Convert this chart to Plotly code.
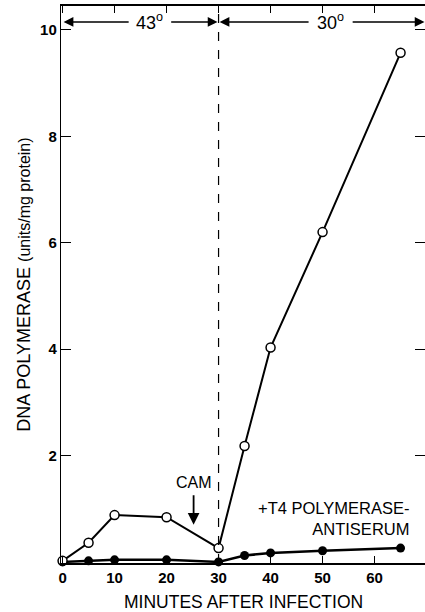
import plotly.graph_objects as go

# Data
minutes = [0, 5, 10, 20, 30, 35, 40, 50, 65]
control = [0.02, 0.36, 0.88, 0.84, 0.26, 2.18, 4.03, 6.2, 9.57]
antiserum = [0.0, 0.02, 0.04, 0.04, 0.0, 0.12, 0.17, 0.21, 0.26]
x_ticks = [0, 10, 20, 30, 40, 50, 60]
y_ticks = [2, 4, 6, 8, 10]

FONT = "Liberation Sans"

fig = go.Figure()

fig.add_trace(go.Scatter(
    x=minutes, y=antiserum, mode="lines+markers",
    line=dict(color="black", width=2.5),
    marker=dict(symbol="circle", size=9, color="black"),
    showlegend=False, cliponaxis=False))

fig.add_trace(go.Scatter(
    x=minutes, y=control, mode="lines+markers",
    line=dict(color="black", width=2),
    marker=dict(symbol="circle", size=9, color="white",
                line=dict(color="black", width=1.5)),
    showlegend=False, cliponaxis=False))

# dashed vertical line at 30 min
fig.add_shape(type="line", x0=30, x1=30, y0=0, y1=1, xref="x", yref="paper",
              line=dict(color="black", width=1.2, dash="dash"))

arrow_y = 10.15
def span_arrow(x_from, x_to):
    fig.add_annotation(x=x_to, y=arrow_y, ax=x_from, ay=arrow_y,
                       xref="x", yref="y", axref="x", ayref="y",
                       text="", showarrow=True, arrowhead=2, arrowsize=1.3,
                       arrowwidth=1.5, arrowcolor="black")

span_arrow(13.0, 0.2)
span_arrow(20.6, 29.8)
span_arrow(47.6, 30.2)
span_arrow(55.5, 69.6)

fig.add_annotation(x=16.8, y=arrow_y, xref="x", yref="y", text="43<sup>o</sup>",
                   showarrow=False, font=dict(family=FONT, size=18, color="black"))
fig.add_annotation(x=51.5, y=arrow_y, xref="x", yref="y", text="30<sup>o</sup>",
                   showarrow=False, font=dict(family=FONT, size=18, color="black"))

# CAM arrow
fig.add_annotation(x=25.2, y=0.7, ax=25.2, ay=1.28, xref="x", yref="y",
                   axref="x", ayref="y", text="", showarrow=True,
                   arrowhead=2, arrowsize=1.3, arrowwidth=1.8, arrowcolor="black")
fig.add_annotation(x=25.2, y=1.5, xref="x", yref="y", text="CAM",
                   showarrow=False, font=dict(family=FONT, size=16, color="black"))

fig.add_annotation(x=67.0, y=0.82, xref="x", yref="y",
                   text="+T4 POLYMERASE-<br>ANTISERUM", align="right",
                   xanchor="right", yanchor="middle", showarrow=False,
                   font=dict(family=FONT, size=16.5, color="black"))

# axis titles
fig.add_annotation(x=-0.104, y=0.5, xref="paper", yref="paper", textangle=-90,
                   xanchor="center", yanchor="middle",
                   text="DNA POLYMERASE <span style='font-size:16px'>(units/mg protein)</span>",
                   showarrow=False, font=dict(family=FONT, size=18, color="black"))
fig.add_annotation(x=0.5, y=-0.07, xref="paper", yref="paper",
                   xanchor="center", yanchor="middle",
                   text="MINUTES AFTER INFECTION",
                   showarrow=False, font=dict(family=FONT, size=17.5, color="black"))

fig.update_xaxes(range=[-0.3, 69.7], tickvals=x_ticks, ticks="inside", ticklen=7,
                 tickwidth=1.2, tickcolor="black", showline=True, linecolor="black",
                 linewidth=1.8, mirror="ticks", showgrid=False, zeroline=False,
                 automargin=False,
                 tickfont=dict(family=FONT, size=15, color="black", weight="bold"))
fig.update_yaxes(range=[-0.02, 10.45], tickvals=y_ticks, ticks="inside", ticklen=10,
                 tickwidth=1.2, tickcolor="black", showline=True, linecolor="black",
                 linewidth=1.4, mirror="ticks", showgrid=False, zeroline=False,
                 automargin=False,
                 tickfont=dict(family=FONT, size=15, color="black", weight="bold"))

fig.update_layout(width=425, height=612, margin=dict(l=61, r=0, t=6, b=49),
                  plot_bgcolor="white", paper_bgcolor="white",
                  font=dict(family=FONT, color="black"))

fig.write_html("out.html", config={"displayModeBar": False},
               post_script="document.body.style.margin='0';document.body.style.overflow='hidden';")
